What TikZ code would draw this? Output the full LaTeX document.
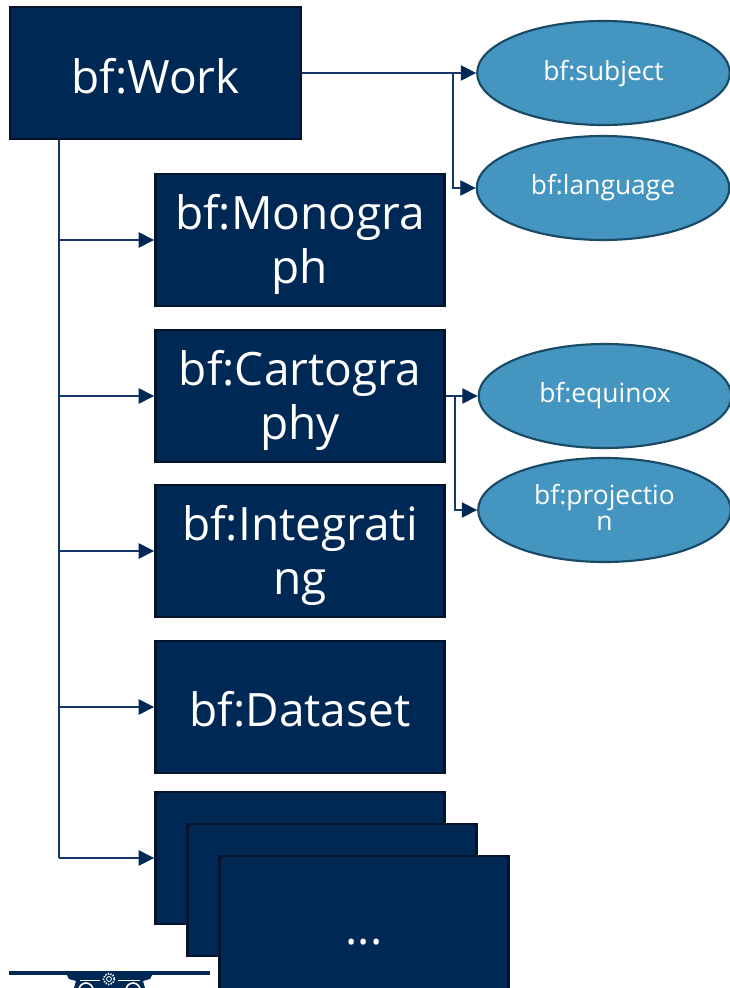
\documentclass[tikz,border=0pt]{standalone}
\usepackage{fontspec}
\setmainfont{Open Sans}
\usetikzlibrary{arrows.meta,shapes.geometric}
\definecolor{navy}{HTML}{002855}
\definecolor{navyedge}{HTML}{05142B}
\definecolor{linkcol}{HTML}{143768}
\definecolor{sky}{HTML}{4496C0}
\definecolor{skyedge}{HTML}{1A4A66}
\tikzset{
  x=0.75pt,y=-0.75pt,
  boxnode/.style={draw=navyedge,fill=navy,line width=1.9pt,text=white,minimum width=217pt,minimum height=99pt,inner sep=0pt,align=center,font=\fontsize{34.5}{40.5}\selectfont},
  ovalnode/.style={ellipse,draw=skyedge,fill=sky,line width=1.6pt,text=white,minimum width=189.5pt,minimum height=78pt,inner sep=0pt,align=center,font=\fontsize{19.8}{19.5}\selectfont},
  link/.style={draw=linkcol,line width=1.05pt},
  arrowlink/.style={link,-{Triangle[length=11.5pt,width=11.5pt,color=navy]}},
}
\newcommand{\lowtext}[2]{\raisebox{#1}[\height][\depth]{#2}}
\begin{document}
\begin{tikzpicture}
\useasboundingbox (0,0) rectangle (730,988);
\clip (0,0) rectangle (730,988);
\fill[white] (0,0) rectangle (730,988);
% logo
\fill[navy] (9,971) rectangle (210,975);
\fill[navy] (67,975) -- (152,975) -- (150,979) -- (143,981) -- (145,988) -- (74,988) -- (76,981) -- (69,979) -- cycle;
\fill[white] (80,979.5) rectangle (100,981);
\fill[white] (118,979.5) rectangle (140,981);
\draw[white,line width=1.2pt] (86,990) circle (7);
\draw[white,line width=1.2pt] (133,990) circle (7);
\fill[navy] (109,979) circle (8);
\draw[white,line width=1.3pt,dash pattern=on 1pt off 1pt] (109,979) circle (5.5);
\draw[white,line width=.6pt] (109,979) circle (2.5);
% boxes
\node[boxnode,minimum width=218pt] (work) at (155.5,73) {\lowtext{-2.5pt}{bf:Work}};
\node[boxnode] (mono) at (300,240) {\lowtext{-3.4pt}{bf:Monogra}\\\lowtext{-3.4pt}{ph}};
\node[boxnode] (carto) at (300,396) {\lowtext{-3.4pt}{bf:Cartogra}\\\lowtext{-3.4pt}{phy}};
\node[boxnode] (integ) at (300,551) {\lowtext{-3.4pt}{bf:Integrati}\\\lowtext{-3.4pt}{ng}};
\node[boxnode] (data) at (300,707) {\lowtext{-2pt}{bf:Dataset}};
\node[boxnode] (stacka) at (300,858) {};
\node[boxnode] (stackb) at (332,890) {};
\node[boxnode,minimum height=129pt] (stackc) at (364,942) {...};
% ovals
\node[ovalnode] (subj) at (603.5,73) {\lowtext{-0.4pt}{bf:subject}};
\node[ovalnode] (lang) at (603,188) {bf:language};
\node[ovalnode] (equi) at (605,396) {bf:equinox};
\node[ovalnode] (proj) at (604.5,510) {\lowtext{1.9pt}{bf:projectio}\\\lowtext{1.9pt}{n}};
% connectors
\coordinate (trunk) at (59,139);
\draw[link] (work.south -| trunk) -- (trunk |- stacka.west);
\foreach \t in {mono,carto,integ,data,stacka}
  \draw[arrowlink] (trunk |- \t.west) -- (\t.west);
\coordinate (forka) at (453,73);
\coordinate (forkb) at (455,396);
\draw[arrowlink] (work.east) -- (subj.west);
\draw[arrowlink] (forka) -- (forka |- lang.west) -- (lang.west);
\draw[arrowlink] (carto.east) -- (equi.west);
\draw[arrowlink] (forkb) -- (forkb |- proj.west) -- (proj.west);
\end{tikzpicture}
\end{document}
